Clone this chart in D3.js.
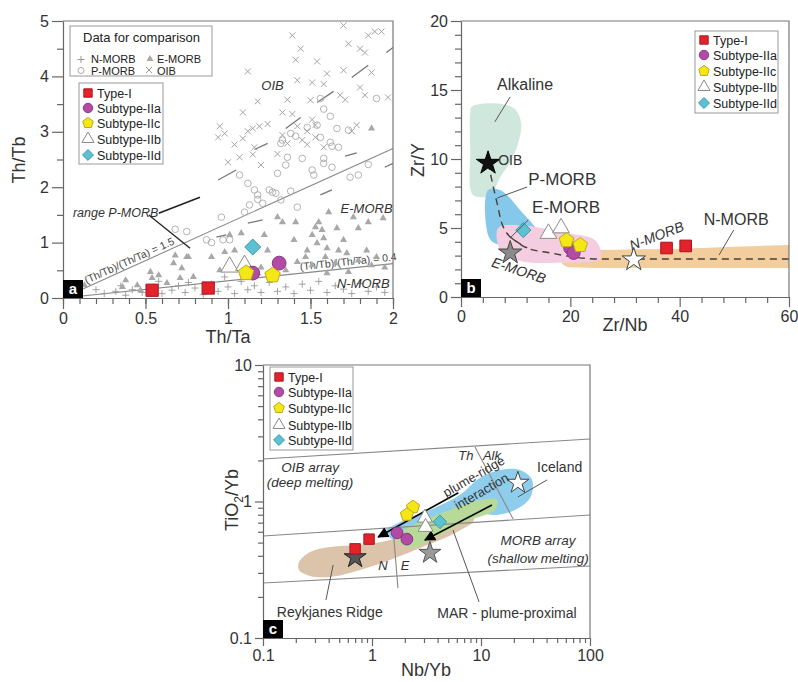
<!DOCTYPE html>
<meta charset="utf-8">
<style>
body { margin: 0; background: #fff; }
text { font-family: "Liberation Sans", Arial, sans-serif; fill: #333; }
.axis .domain, .axis line { stroke: #666; stroke-width: 1.2; }
.axis text { font-size: 16px; fill: #333; font-family: "Liberation Sans", Arial, sans-serif; }
.frame { fill: none; stroke: #777; stroke-width: 1.2; }
.guide { stroke: #888; stroke-width: 1.1; fill: none; }
.leader { stroke: #555; stroke-width: 1; fill: none; }
.it { font-style: italic; }
.lgtext { font-size: 12.5px; fill: #222; }
</style>
<body>
<script src="https://d3js.org/d3.v7.min.js"></script>
<script>

// ---------- panel a : Th/Ta vs Th/Tb ----------
const nmorbA = [[0.2,0.15],[0.25,0.08],[0.32,0.12],[0.38,0.05],[0.42,0.15],[0.48,0.1],[0.55,0.2],[0.6,0.08],
  [0.66,0.14],[0.7,0.22],[0.74,0.1],[0.8,0.18],[0.85,0.06],[0.9,0.25],[0.94,0.12],[1.0,0.2],[1.04,0.08],
  [1.08,0.3],[1.12,0.15],[1.16,0.22],[1.2,0.1],[1.25,0.28],[1.3,0.12],[1.35,0.2],[1.4,0.08],[1.45,0.25],
  [1.5,0.14],[1.55,0.3],[1.6,0.1],[1.65,0.22],[1.7,0.16],[1.75,0.08],[1.8,0.26],[1.85,0.12],[1.9,0.2],
  [1.95,0.1],[0.98,0.38],[1.18,0.42],[0.58,0.3],[1.28,0.4],[0.35,0.22],[0.76,0.28]];
const emorbA = [[1.87,3.06],[1.61,1.55],[1.76,1.46],[1.94,1.44],[1.30,1.46],[1.33,1.37],[1.41,1.37],[1.55,1.37],
  [1.53,1.28],[1.57,1.23],[1.51,1.14],[1.58,1.08],[1.54,0.99],[1.66,1.26],[1.79,1.26],[1.85,1.37],[1.01,1.14],
  [1.08,1.17],[1.22,1.14],[1.24,0.86],[1.04,0.86],[0.98,0.83],[0.90,0.74],[0.76,0.74],[1.48,0.86],[1.47,0.74],
  [1.42,0.65],[1.51,0.59],[1.60,0.90],[1.67,0.86],[1.72,0.81],[1.84,0.86],[1.90,0.74],[1.59,0.74],[1.65,0.63],
  [1.79,0.68],[1.87,0.59],[1.60,0.45],[1.73,0.47],[0.68,0.77],[0.75,0.74],[0.67,0.63],[0.72,0.54],[0.53,0.47],
  [0.58,0.41],[0.38,0.32],[0.45,0.23],[0.54,0.36],[0.71,0.36],[0.79,0.38],[0.36,0.20],[0.47,0.14],[0.63,0.27],
  [0.13,0.23],[0.95,0.5],[1.2,0.55],[1.35,0.5],[1.95,0.55],[1.4,1.05],[1.7,1.05]];
const pmorbA = [[1.56,3.60],[1.90,3.60],[1.58,3.41],[1.62,3.28],[1.48,3.08],[1.54,3.12],[1.38,2.97],[1.41,2.92],
  [1.32,2.79],[1.33,2.85],[1.66,3.06],[1.73,3.03],[1.56,2.90],[1.62,2.81],[1.63,2.74],[1.67,2.72],[1.36,2.54],
  [1.45,2.52],[1.58,2.52],[1.63,2.36],[1.85,2.41],[1.58,2.43],[1.07,2.22],[1.12,2.07],[1.35,2.40],[1.30,2.25],
  [1.51,2.31],[1.52,2.22],[1.74,2.18],[1.79,2.22],[1.16,1.95],[1.18,1.86],[1.18,1.78],[1.25,1.95],[1.27,1.91],
  [1.29,1.89],[1.38,1.93],[1.32,1.77],[1.21,1.71],[1.13,1.68],[1.10,1.55],[0.96,1.46],[1.42,1.64],[0.87,1.05],
  [0.97,1.05],[1.01,1.05],[0.68,1.24],[0.75,1.2],[0.9,1.0]];
const oibA = [[1.70,4.92],[1.39,4.74],[1.44,4.50],[1.41,4.30],[1.54,4.27],[1.12,4.09],[1.73,4.59],[1.80,4.50],
  [1.83,4.43],[1.85,4.74],[1.89,4.81],[1.93,4.81],[1.60,4.05],[1.70,4.11],[1.42,3.93],[1.51,3.89],[1.58,3.86],
  [1.80,3.80],[1.87,4.07],[1.18,3.55],[1.36,3.58],[1.50,3.57],[1.68,3.66],[1.71,3.58],[1.83,3.66],[1.97,3.62],
  [1.09,3.35],[1.33,3.35],[1.39,3.32],[0.95,3.10],[0.98,2.97],[0.94,2.90],[1.12,3.01],[1.15,3.06],[1.19,3.10],
  [1.24,3.14],[1.04,2.77],[1.09,2.88],[1.42,3.10],[1.48,3.01],[1.51,3.22],[1.53,3.12],[1.78,3.12],[1.75,3.01],
  [1.33,2.94],[1.36,2.79],[1.45,2.85],[1.48,2.77],[1.53,2.90],[1.58,2.72],[1.16,2.72],[1.15,2.59],[1.07,2.54],
  [1.0,2.45],[1.2,2.4],[1.3,2.6]];
const rangeSegA = [[1.75,3.98,1.85,4.20],[1.54,3.53,1.64,3.73],[1.35,3.06,1.44,3.26],[1.16,2.68,1.24,2.79],
  [1.96,4.43,2.0,4.52],[0.94,2.13,1.05,2.31],[1.12,1.35,1.21,1.41],[1.56,1.86,1.63,1.95],[1.95,2.36,2.0,2.43],
  [0.93,1.10,0.99,1.14],[1.71,2.56,1.78,2.62]];
const ratioEndsA = [[2, 2.7], [2, 0.62]];
const ratioLabelsA = ["(Th/Tb)/(Th/Ta) = 1.5", "(Th/Tb)/(Th/Ta) = 0.4"];
const typeIA = [[0.54,0.14],[0.88,0.18]];
const subIIaA = [[1.31,0.63],[1.15,0.45]];
const subIIcA = [[1.11,0.45],[1.27,0.41]];
const subIIbA = [[1.01,0.56],[1.10,0.59]];
const subIIdA = [[1.15,0.92]];

// ---------- panel b : Zr/Nb vs Zr/Y ----------
const alkalineB = [[2.0,13.8],[7.2,14.0],[9.9,13.6],[11.0,12.6],[10.5,11.2],[9.0,9.8],[7.2,8.7],[5.3,7.4],[2.2,7.4],[1.7,10.7],[1.7,13.3]];
const pmorbB = [[4.95,7.75],[7.15,7.75],[10.8,6.3],[14.5,4.35],[12.7,3.9],[6.2,3.9],[4.95,4.5]];
const emorbB = [[6.8,5.0],[10.8,5.2],[18.2,4.7],[24.6,4.1],[25.5,2.8],[18.2,2.5],[10.8,2.6],[7.2,3.4]];
const nmorbB = [[18.2,2.7],[18.6,3.1],[19.6,3.3],[25,3.4],[40,3.5],[62,3.8],[62,2.1],[25,2.1],[19.6,2.15],[18.6,2.35]];
const trendB = [[4.95,9.7],[6.6,6.8],[7.7,5.1],[9.0,4.35],[12.1,3.55],[16.3,3.2],[20.5,2.9],[25.5,2.75],[60,2.75]];
const starsB = [[4.95,9.7],[9.0,3.2],[31.6,2.7]];
const typeIB = [[37.6,3.55],[41.1,3.7]];
const subIIaB = [[20.0,3.55],[20.6,3.2]];
const subIIcB = [[19.3,4.1],[21.8,3.75]];
const subIIbB = [[16.0,4.6],[18.3,5.0]];
const subIIdB = [[11.4,4.85]];

// ---------- panel c : Nb/Yb vs TiO2/Yb ----------
const arrayLinesC = [[[0.1,2.05],[100,2.87]], [[0.1,0.559],[100,0.796]], [[0.1,0.253],[100,0.337]]];
const dividersC = [[[8.81,2.51],[19.7,0.744]], [[1.56,0.64],[1.73,0.232]]];
const reykjanesC = [[0.214,0.36],[0.27,0.427],[0.412,0.465],[0.776,0.48],[1.46,0.522],[2.75,0.618],[5.2,0.757],
  [7.93,0.838],[8.63,0.732],[5.77,0.588],[2.75,0.456],[1.46,0.373],[0.776,0.315],[0.412,0.28],[0.27,0.285],[0.214,0.315]];
const marC = [[1.63,0.549],[2.75,0.708],[5.2,0.867],[9.8,1.03],[14.0,1.03],[13.4,0.867],[7.93,0.732],[4.2,0.569],[2.23,0.456]];
const plumeC = [[1.31,0.598],[1.81,0.708],[3.4,0.867],[6.42,1.12],[9.8,1.49],[14.9,1.70],[22.8,1.70],[29.4,1.44],
  [28.2,1.06],[20.5,0.867],[13.4,0.796],[8.81,0.838],[5.2,0.708],[2.75,0.598],[1.63,0.522]];
const arrowsC = [[[6.2,1.16],[1.14,0.549]], [[12.6,0.942],[3.06,0.522]]];
const starsC = [[0.70,0.39],[3.4,0.42],[21.8,1.37]];
const typeIC = [[0.94,0.53],[0.70,0.45]];
const subIIaC = [[1.70,0.59],[2.09,0.53]];
const subIIcC = [[2.38,0.91],[2.09,0.80]];
const subIIbC = [[3.06,0.76],[3.1,0.65]];
const subIIdC = [[4.2,0.71]];

const legendLabels = ["Type-I", "Subtype-IIa", "Subtype-IIc", "Subtype-IIb", "Subtype-IId"];

// ---------- symbols ----------
const symPentagon = { draw(ctx, size) {
  const r = Math.sqrt(size / 2.378);
  for (let i = 0; i < 5; i++) {
    const a = -Math.PI / 2 + i * 2 * Math.PI / 5;
    if (i) ctx.lineTo(r * Math.cos(a), r * Math.sin(a)); else ctx.moveTo(r * Math.cos(a), r * Math.sin(a));
  }
  ctx.closePath();
}};
const symDiamond = { draw(ctx, size) {
  const r = Math.sqrt(size / 2);
  ctx.moveTo(0, -r); ctx.lineTo(r, 0); ctx.lineTo(0, r); ctx.lineTo(-r, 0); ctx.closePath();
}};
const styles = [
  { type: d3.symbolSquare, fill: "#e3222b", stroke: "#a8161d", k: 1.0 },
  { type: d3.symbolCircle, fill: "#b24aa6", stroke: "#8c3683", k: 1.0 },
  { type: symPentagon, fill: "#f4e716", stroke: "#bfa81e", k: 1.05 },
  { type: d3.symbolTriangle, fill: "#fff", stroke: "#8a8a8a", k: 0.9 },
  { type: symDiamond, fill: "#5cc2d2", stroke: "#3a98aa", k: 0.85 }
];

const svg = d3.select("body").append("svg").attr("width", 798).attr("height", 682);
const defs = svg.append("defs");

function clipFor(id, x, y) {
  const [x0, x1] = x.range(), [y0, y1] = y.range();
  defs.append("clipPath").attr("id", id).append("rect").attr("x", x0).attr("y", y1).attr("width", x1 - x0).attr("height", y0 - y1);
  return `url(#${id})`;
}

function drawAxes(g, x, y, o) {
  const [x0, x1] = x.range(), [y0, y1] = y.range();
  g.append("path").attr("class", "frame").attr("d", `M${x0},${y1}H${x1}V${y0}`);
  g.append("g").attr("class", "axis").attr("transform", `translate(${x0},0)`)
    .call(d3.axisLeft(y).tickValues(o.yMajor).tickSize(o.tl).tickSizeOuter(0).tickPadding(3).tickFormat(d3.format("~g")));
  g.append("g").attr("class", "axis").attr("transform", `translate(${x0},0)`)
    .call(d3.axisLeft(y).tickValues(o.yMinor).tickSize(o.tm).tickSizeOuter(0).tickFormat(""))
    .select(".domain").remove();
  g.append("g").attr("class", "axis").attr("transform", `translate(0,${y0})`)
    .call(d3.axisBottom(x).tickValues(o.xMajor).tickSize(o.tl).tickSizeOuter(0).tickPadding(4).tickFormat(d3.format("~g")));
  g.append("g").attr("class", "axis").attr("transform", `translate(0,${y0})`)
    .call(d3.axisBottom(x).tickValues(o.xMinor).tickSize(o.tm).tickSizeOuter(0).tickFormat(""))
    .select(".domain").remove();
  // panel letter
  g.append("rect").attr("x", x0).attr("y", y0 - 18).attr("width", 20).attr("height", 18).attr("fill", "#000");
  g.append("text").attr("x", x0 + 10).attr("y", y0 - 4).attr("text-anchor", "middle")
    .style("font-size", "15px").style("font-weight", "bold").style("fill", "#fff").text(o.letter);
}

function drawSamples(g, x, y, sets, scale) {
  [3, 4, 1, 2, 0].forEach(i => {
    const st = styles[i];
    g.selectAll(null).data(sets[i]).enter().append("path")
      .attr("d", d3.symbol().type(st.type).size(150 * scale * scale * st.k))
      .attr("transform", d => `translate(${x(d[0])},${y(d[1])})`)
      .attr("fill", st.fill).attr("stroke", st.stroke).attr("stroke-width", 1);
  });
}

function drawLegend(g, x0, y0, w, h, rowY) {
  g.append("rect").attr("x", x0).attr("y", y0).attr("width", w).attr("height", h)
    .attr("fill", "#fff").attr("stroke", "#999").attr("stroke-width", 1);
  legendLabels.forEach((t, i) => {
    const st = styles[i];
    g.append("path").attr("d", d3.symbol().type(st.type).size(70 * st.k))
      .attr("transform", `translate(${x0 + 9},${y0 + rowY[i]})`)
      .attr("fill", st.fill).attr("stroke", st.stroke);
    g.append("text").attr("class", "lgtext").attr("x", x0 + 18).attr("y", y0 + rowY[i] + 4.5).text(t);
  });
}

function starPath(size) { return d3.symbol().type(d3.symbolStar).size(size)(); }
const plusPath = "M-3.5,0H3.5M0,-3.5V3.5";
const timesPath = "M-3,-3L3,3M-3,3L3,-3";

// ================= panel a =================
const xa = d3.scaleLinear().domain([0, 2]).range([63, 393]);
const ya = d3.scaleLinear().domain([0, 5]).range([298, 21]);
const gA = svg.append("g");

ratioEndsA.forEach((e, i) => {
  gA.append("line").attr("class", "guide").attr("x1", xa(0)).attr("y1", ya(0)).attr("x2", xa(e[0])).attr("y2", ya(e[1]));
  const ang = Math.atan2(ya(e[1]) - ya(0), xa(e[0]) - xa(0)) * 180 / Math.PI;
  const t = i === 0 ? 0.15 : 1.44;
  gA.append("text").attr("transform", `translate(${xa(t)},${ya(t * e[1] / e[0])}) rotate(${ang})`)
    .attr("dy", -3).style("font-size", "10.5px").style("fill", "#444").text(ratioLabelsA[i]);
});
gA.selectAll(null).data(rangeSegA).enter().append("line")
  .attr("x1", d => xa(d[0])).attr("y1", d => ya(d[1])).attr("x2", d => xa(d[2])).attr("y2", d => ya(d[3]))
  .attr("stroke", "#777").attr("stroke-width", 1.3);

gA.selectAll(null).data(nmorbA).enter().append("path").attr("d", plusPath)
  .attr("transform", d => `translate(${xa(d[0])},${ya(d[1])})`).attr("stroke", "#999").attr("stroke-width", 0.9);
gA.selectAll(null).data(emorbA).enter().append("path").attr("d", d3.symbol().type(d3.symbolTriangle).size(22))
  .attr("transform", d => `translate(${xa(d[0])},${ya(d[1])})`).attr("fill", "#a8a8a8");
gA.selectAll(null).data(pmorbA).enter().append("circle").attr("r", 3.3)
  .attr("cx", d => xa(d[0])).attr("cy", d => ya(d[1])).attr("fill", "none").attr("stroke", "#aaa").attr("stroke-width", 0.9);
gA.selectAll(null).data(oibA).enter().append("path").attr("d", timesPath)
  .attr("transform", d => `translate(${xa(d[0])},${ya(d[1])})`).attr("stroke", "#999").attr("stroke-width", 0.9);

gA.append("text").attr("class", "it").attr("x", xa(1.27)).attr("y", ya(3.75)).attr("text-anchor", "middle").style("font-size", "13px").text("OIB");
gA.append("text").attr("class", "it").attr("x", xa(1.84)).attr("y", ya(1.53)).attr("text-anchor", "middle").style("font-size", "13px").text("E-MORB");
gA.append("text").attr("class", "it").attr("x", xa(1.82)).attr("y", ya(0.18)).attr("text-anchor", "middle").style("font-size", "13px").text("N-MORB");
gA.append("text").attr("class", "it").attr("x", xa(0.06)).attr("y", ya(1.46)).style("font-size", "12.5px").text("range P-MORB");
gA.append("line").attr("x1", xa(0.58)).attr("y1", ya(1.53)).attr("x2", xa(0.83)).attr("y2", ya(1.82)).attr("stroke", "#222").attr("stroke-width", 1.6);
gA.append("line").attr("x1", xa(0.52)).attr("y1", ya(1.50)).attr("x2", xa(0.77)).attr("y2", ya(0.90)).attr("stroke", "#222").attr("stroke-width", 1.3);

drawAxes(gA, xa, ya, { yMajor: d3.range(0, 6), yMinor: d3.range(0.5, 5, 1), xMajor: [0, 0.5, 1, 1.5, 2],
  xMinor: d3.range(0, 2.01, 0.1).map(v => +v.toFixed(1)), tl: 11, tm: 6, letter: "a" });
drawSamples(gA, xa, ya, [typeIA, subIIaA, subIIcA, subIIbA, subIIdA], 1);

// comparison legend
gA.append("rect").attr("x", 70).attr("y", 26).attr("width", 142).attr("height", 50).attr("fill", "#fff").attr("stroke", "#999");
gA.append("text").attr("x", 83).attr("y", 42).style("font-size", "13px").style("fill", "#222").text("Data for comparison");
gA.append("path").attr("d", plusPath).attr("transform", "translate(81,59.5)").attr("stroke", "#999");
gA.append("text").attr("x", 91).attr("y", 63).style("font-size", "11px").style("fill", "#222").text("N-MORB");
gA.append("path").attr("d", d3.symbol().type(d3.symbolTriangle).size(22)).attr("transform", "translate(150,59)").attr("fill", "#a8a8a8");
gA.append("text").attr("x", 157).attr("y", 63).style("font-size", "11px").style("fill", "#222").text("E-MORB");
gA.append("circle").attr("cx", 81).attr("cy", 70.5).attr("r", 3).attr("fill", "none").attr("stroke", "#aaa");
gA.append("text").attr("x", 91).attr("y", 74.5).style("font-size", "11px").style("fill", "#222").text("P-MORB");
gA.append("path").attr("d", timesPath).attr("transform", "translate(149,70)").attr("stroke", "#999");
gA.append("text").attr("x", 157).attr("y", 74.5).style("font-size", "11px").style("fill", "#222").text("OIB");
drawLegend(gA, 79, 83, 84, 81, [10, 25, 40, 56, 72]);

svg.append("text").attr("x", 228).attr("y", 343).attr("text-anchor", "middle").style("font-size", "18px").text("Th/Ta");
svg.append("text").attr("transform", "translate(25,160) rotate(-90)").attr("text-anchor", "middle").style("font-size", "18px").text("Th/Tb");

// ================= panel b =================
const xb = d3.scaleLinear().domain([0, 60]).range([461, 789]);
const yb = d3.scaleLinear().domain([0, 20]).range([297, 21]);
const gB = svg.append("g");
const gBa = gB.append("g").attr("clip-path", clipFor("clipB", xb, yb));
const smoothB = d3.line().x(d => xb(d[0])).y(d => yb(d[1])).curve(d3.curveCatmullRomClosed.alpha(0.5));
const flatB = d3.line().x(d => xb(d[0])).y(d => yb(d[1])).curve(d3.curveLinearClosed);
gBa.append("path").attr("d", smoothB(alkalineB)).attr("fill", "#cfe7dc");
gBa.append("path").attr("d", smoothB(pmorbB)).attr("fill", "#86c8e9");
gBa.append("path").attr("d", flatB(nmorbB)).attr("fill", "#f2cd9e");
gBa.append("path").attr("d", smoothB(emorbB)).attr("fill", "#f4cde0");
gB.append("path").attr("d", d3.line().x(d => xb(d[0])).y(d => yb(d[1])).curve(d3.curveMonotoneX)(trendB.slice(3)))
  .attr("fill", "none").attr("stroke", "#4a3e36").attr("stroke-width", 1.4).attr("stroke-dasharray", "7,5");
gB.append("path").attr("d", d3.line().x(d => xb(d[0])).y(d => yb(d[1])).curve(d3.curveCatmullRom)(trendB.slice(0, 5)))
  .attr("fill", "none").attr("stroke", "#4a3e36").attr("stroke-width", 1.4).attr("stroke-dasharray", "7,5");

drawAxes(gB, xb, yb, { yMajor: [0, 5, 10, 15, 20], yMinor: d3.range(1, 20).filter(v => v % 5), xMajor: [0, 20, 40, 60],
  xMinor: d3.range(4, 60, 4).filter(v => v % 20), tl: 10, tm: 6, letter: "b" });

[["#111", "#000"], ["#8a8a8a", "#444"], ["#fff", "#444"]].forEach((c, i) => {
  gB.append("path").attr("d", starPath(170)).attr("transform", `translate(${xb(starsB[i][0])},${yb(starsB[i][1])})`)
    .attr("fill", c[0]).attr("stroke", c[1]).attr("stroke-width", 1);
});
drawSamples(gB, xb, yb, [typeIB, subIIaB, subIIcB, subIIbB, subIIdB], 0.95);

const tB = (x, y, s, size, cls) => gB.append("text").attr("x", xb(x)).attr("y", yb(y)).attr("class", cls || null).style("font-size", size + "px").text(s);
tB(6.6, 15.0, "Alkaline", 16);
tB(6.8, 9.6, "OIB", 14);
tB(12.3, 8.1, "P-MORB", 17);
tB(13.0, 6.1, "E-MORB", 17);
tB(44.4, 5.2, "N-MORB", 16);
[[[9.0, 14.5], [6.2, 12.7]], [[12.1, 7.97], [6.6, 7.17]], [[12.3, 5.58], [9.0, 4.28]], [[49.9, 4.86], [47.2, 3.04]]].forEach(l => {
  gB.append("line").attr("class", "leader").attr("x1", xb(l[0][0])).attr("y1", yb(l[0][1])).attr("x2", xb(l[1][0])).attr("y2", yb(l[1][1]));
});
gB.append("text").attr("class", "it").attr("transform", `translate(${xb(10.3)},${yb(1.6)}) rotate(18)`)
  .attr("text-anchor", "middle").style("font-size", "14px").text("E-MORB");
gB.append("text").attr("class", "it").attr("transform", `translate(${xb(36.1)},${yb(4.1)}) rotate(-21)`)
  .attr("text-anchor", "middle").style("font-size", "14px").text("N-MORB");
drawLegend(gB, 695, 31, 83, 82, [9, 24, 40, 56, 72]);

svg.append("text").attr("x", 625).attr("y", 331).attr("text-anchor", "middle").style("font-size", "18px").text("Zr/Nb");
svg.append("text").attr("transform", "translate(424,160) rotate(-90)").attr("text-anchor", "middle").style("font-size", "18px").text("Zr/Y");

// ================= panel c =================
const xc = d3.scaleLog().domain([0.1, 100]).range([263, 590]);
const yc = d3.scaleLog().domain([0.1, 10]).range([638, 365]);
const gC = svg.append("g");
const lineC = d3.line().x(d => xc(d[0])).y(d => yc(d[1]));
const areaC = d3.line().x(d => xc(d[0])).y(d => yc(d[1])).curve(d3.curveCatmullRomClosed.alpha(0.5));
[[reykjanesC, "#dcc4aa"], [plumeC, "#8ecdec"], [marC, "#b7da98"]].forEach(r => {
  gC.append("path").attr("d", areaC(r[0])).attr("fill", r[1]);
});
arrayLinesC.forEach(l => gC.append("path").attr("class", "guide").attr("d", lineC(l)));
dividersC.forEach(l => gC.append("path").attr("class", "guide").attr("d", lineC(l)));

const minorLog = (a, b) => d3.range(Math.log10(a), Math.log10(b)).flatMap(e => d3.range(2, 10).map(k => +(k * Math.pow(10, e)).toPrecision(2)));
drawAxes(gC, xc, yc, { yMajor: [0.1, 1, 10], yMinor: minorLog(0.1, 10), xMajor: [0.1, 1, 10, 100],
  xMinor: minorLog(0.1, 100), tl: 8, tm: 5, letter: "c" });

defs.append("marker").attr("id", "ah").attr("viewBox", "0 0 10 10").attr("refX", 9).attr("refY", 5)
  .attr("markerWidth", 7).attr("markerHeight", 7).attr("orient", "auto-start-reverse")
  .append("path").attr("d", "M0,0L10,5L0,10Z").attr("fill", "#000");
arrowsC.forEach(a => gC.append("path").attr("d", lineC(a)).attr("stroke", "#000").attr("stroke-width", 1.6)
  .attr("fill", "none").attr("marker-end", "url(#ah)"));

[["#555", "#222"], ["#9a9a9a", "#555"], ["#fff", "#444"]].forEach((c, i) => {
  gC.append("path").attr("d", starPath(150)).attr("transform", `translate(${xc(starsC[i][0])},${yc(starsC[i][1])})`)
    .attr("fill", c[0]).attr("stroke", c[1]).attr("stroke-width", 1);
});
drawSamples(gC, xc, yc, [typeIC, subIIaC, subIIcC, subIIbC, subIIdC], 0.85);

const tC = (x, y, s, size, cls, anchor) => gC.append("text").attr("x", xc(x)).attr("y", yc(y)).attr("class", cls || null)
  .attr("text-anchor", anchor || "middle").style("font-size", size + "px").text(s);
tC(0.27, 1.64, "OIB array", 13.5, "it");
tC(0.27, 1.28, "(deep melting)", 13.5, "it");
tC(7.27, 2.01, "Th", 13, "it");
tC(12.6, 2.01, "Alk", 13, "it");
tC(32.7, 1.64, "Iceland", 14, null, "start");
tC(33.4, 0.48, "MORB array", 13.5, "it");
tC(33.4, 0.354, "(shallow melting)", 13.5, "it");
tC(1.26, 0.315, "N", 13, "it");
tC(2.01, 0.315, "E", 13, "it");
tC(0.41, 0.143, "Reykjanes Ridge", 14);
tC(17.3, 0.140, "MAR - plume-proximal", 14);
gC.append("text").attr("transform", `translate(${xc(9.0)},${yc(1.43)}) rotate(-30)`).attr("text-anchor", "middle").style("font-size", "13px").text("plume-ridge");
gC.append("text").attr("transform", `translate(${xc(10.6)},${yc(1.11)}) rotate(-30)`).attr("text-anchor", "middle").style("font-size", "13px").text("interaction");
[[[40.4, 1.44], [21.8, 1.08]], [[0.44, 0.343], [0.378, 0.19]], [[5.53, 0.618], [9.6, 0.184]]].forEach(l => {
  gC.append("path").attr("class", "leader").attr("d", lineC(l));
});
drawLegend(gC, 270, 367, 83, 83, [10, 25, 41, 58, 73]);

svg.append("text").attr("x", 426).attr("y", 676).attr("text-anchor", "middle").style("font-size", "18px").text("Nb/Yb");
const ty = svg.append("text").attr("transform", "translate(238,500) rotate(-90)").attr("text-anchor", "middle").style("font-size", "18px");
ty.append("tspan").text("TiO");
ty.append("tspan").attr("dy", 5).style("font-size", "12px").text("2");
ty.append("tspan").attr("dy", -5).text("/Yb");

</script>
</body>
